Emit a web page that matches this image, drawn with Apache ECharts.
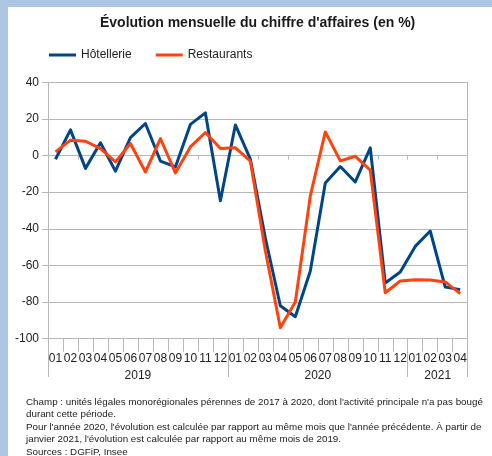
<!DOCTYPE html>
<html>
<head>
<meta charset="utf-8">
<script src="https://cdn.jsdelivr.net/npm/echarts@6/dist/echarts.min.js"></script>
<style>
  html, body { margin: 0; padding: 0; background: #aec6e6; }
  #bg { position: absolute; left: 8px; top: 7px; width: 484px; height: 449px; background: #ffffff; }
  #chart { position: absolute; left: 0; top: 0; width: 492px; height: 456px; }
</style>
</head>
<body>
<div id="bg"></div>
<div id="chart"></div>
<script>
const months = ['01','02','03','04','05','06','07','08','09','10','11','12',
                '01','02','03','04','05','06','07','08','09','10','11','12',
                '01','02','03','04'];
const years = ['2019', '2020', '2021'];
const yearCenters = [6, 18, 26];
const yearBounds = [0, 12, 24, 28];
const hotellerie = [-2, 14, -7, 7, -8.5, 9.8, 17.5, -3, -6.2, 17, 23.3, -24.7,
                    16.7, -2, -45, -82, -88, -63, -15, -6, -14.4, 4.2, -69.6, -63.6,
                    -49.6, -41.2, -71.8, -73.2];
const restaurants = [2, 8.4, 7.8, 3.8, -3.5, 6.6, -9, 9.3, -9.5, 4.7, 12.6, 3.8,
                     4.2, -3, -52, -94, -80, -22, 12.9, -2.9, -0.4, -8, -74.9, -68.5,
                     -67.8, -68, -69, -75.4];
const yTicks = { min: -100, max: 40, interval: 20 };
const footnote = [
  "Champ : unités légales monorégionales pérennes de 2017 à 2020, dont l'activité principale n'a pas bougé",
  "durant cette période.",
  "Pour l'année 2020, l'évolution est calculée par rapport au même mois que l'année précédente. À partir de",
  "janvier 2021, l'évolution est calculée par rapport au même mois de 2019.",
  "Sources : DGFiP, Insee"
];

const FONT = 'Liberation Sans';
const GRID = '#b8b8b8';
const chart = echarts.init(document.getElementById('chart'), null, { renderer: 'canvas' });
chart.setOption({
  animation: false,
  textStyle: { fontFamily: FONT },
  title: [
    { text: "Évolution mensuelle du chiffre d'affaires (en %)", left: 100, top: 16, padding: 0,
      textStyle: { fontFamily: FONT, fontSize: 14, fontWeight: 'bold', color: '#1a1a1a' } },
    { text: footnote.join('\n'), left: 26, top: 396, padding: 0,
      textStyle: { fontFamily: FONT, fontSize: 9.8, fontWeight: 'normal', color: '#222', lineHeight: 12.5 } }
  ],
  legend: {
    left: 49, top: 49, padding: 0, itemGap: 24, itemWidth: 27, itemHeight: 3, icon: 'rect',
    textStyle: { fontFamily: FONT, fontSize: 12, color: '#222' },
    data: ['Hôtellerie', 'Restaurants']
  },
  grid: { left: 48, right: 24.3, top: 82.3, bottom: 117.3, containLabel: false },
  xAxis: [
    { type: 'category', data: months, boundaryGap: true, position: 'bottom',
      axisLine: { onZero: true, lineStyle: { color: GRID } },
      axisTick: { show: true, length: 4, lineStyle: { color: GRID } },
      axisLabel: { show: false }, splitLine: { show: false } },
    { type: 'category', data: months, boundaryGap: true, position: 'bottom',
      axisLine: { show: false, onZero: false },
      axisTick: { show: true, length: 13, lineStyle: { color: GRID } },
      axisLabel: { interval: 0, margin: 14, fontSize: 12, color: '#222', fontFamily: FONT },
      splitLine: { show: false } },
    { type: 'value', min: 0, max: 28, position: 'bottom',
      axisLine: { show: false, onZero: false },
      axisTick: { show: true, length: 38.3, customValues: yearBounds, lineStyle: { color: GRID } },
      axisLabel: { customValues: yearCenters, margin: 31, fontSize: 12, color: '#222', fontFamily: FONT,
        formatter: v => years[yearCenters.indexOf(v)] || '' },
      splitLine: { show: false } }
  ],
  yAxis: [
    { type: 'value', min: yTicks.min, max: yTicks.max, interval: yTicks.interval,
      axisLine: { show: true, lineStyle: { color: GRID } },
      axisTick: { show: true, length: 6, lineStyle: { color: GRID } },
      axisLabel: { margin: 9, fontSize: 12, color: '#222', fontFamily: FONT },
      splitLine: { show: true, lineStyle: { color: GRID, width: 1 } } },
    { type: 'value', min: yTicks.min, max: yTicks.max, interval: yTicks.interval, position: 'right',
      axisLine: { show: true, lineStyle: { color: GRID } },
      axisTick: { show: false }, axisLabel: { show: false }, splitLine: { show: false } }
  ],
  series: [
    { name: 'Hôtellerie', type: 'line', data: hotellerie, xAxisIndex: 0, yAxisIndex: 0,
      showSymbol: false, symbol: 'none', color: '#004586',
      lineStyle: { width: 3, color: '#004586', join: 'round' } },
    { name: 'Restaurants', type: 'line', data: restaurants, xAxisIndex: 0, yAxisIndex: 0,
      showSymbol: false, symbol: 'none', color: '#ff420e',
      lineStyle: { width: 3, color: '#ff420e', join: 'round' } }
  ]
});
</script>
</body>
</html>
